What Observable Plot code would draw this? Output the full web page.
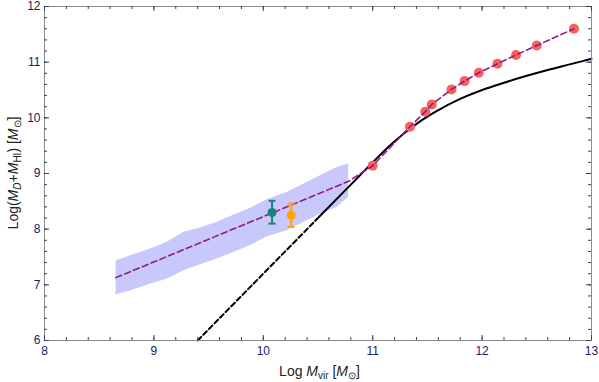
<!DOCTYPE html>
<html><head><meta charset="utf-8">
<script src="https://cdn.jsdelivr.net/npm/d3@7"></script>
<script src="https://cdn.jsdelivr.net/npm/@observablehq/plot@0.6"></script>
<style>body{margin:0;background:#fff}#chart{width:599px;height:382px}</style>
</head><body><div id="chart"></div>
<script>
// Axis ticks
const xTicks = [8, 9, 10, 11, 12, 13];
const yTicks = [6, 7, 8, 9, 10, 11, 12];

// Shaded band (simulated dwarfs)
const bandX = [8.654, 8.782, 8.965, 9.118, 9.27, 9.423, 9.575, 9.728, 9.88, 10.033, 10.216, 10.399, 10.521, 10.673, 10.78];
const bandTop = [7.43, 7.52, 7.64, 7.76, 7.94, 8.02, 8.12, 8.25, 8.37, 8.53, 8.66, 8.84, 8.96, 9.11, 9.17];
const bandBottom = [6.82, 6.89, 7.01, 7.10, 7.25, 7.36, 7.46, 7.58, 7.70, 7.86, 7.97, 8.15, 8.27, 8.39, 8.57];

// Purple dashed fit through band
const fitX = [8.654, 10.78];
const fitY = [7.13, 8.86];

// Red points
const ptX = [11.0, 11.34, 11.48, 11.54, 11.72, 11.84, 11.97, 12.14, 12.31, 12.50, 12.84];
const ptY = [9.14, 9.84, 10.11, 10.24, 10.51, 10.66, 10.81, 10.97, 11.13, 11.30, 11.60];

// Black model curve
const dashX = [9.4, 10.475];
const dashY = [6.0, 8.15];
const solidX = [10.475, 10.8, 11.0, 11.15, 11.3, 11.45, 11.6, 11.8, 12.0, 12.2, 12.4, 12.6, 12.8, 13.0];
const solidY = [8.15, 8.80, 9.20, 9.49, 9.74, 9.96, 10.14, 10.34, 10.50, 10.63, 10.75, 10.86, 10.96, 11.06];

// Observed galaxies with error bars
const obsColor = ["#1a8080", "#ffa500"];
const obsX = [10.08, 10.255];
const obsY = [8.30, 8.25];
const obsLo = [8.10, 8.04];
const obsHi = [8.51, 8.46];

const band = bandX.map((x, i) => ({x, lo: bandBottom[i], hi: bandTop[i]}));
const fitLine = fitX.map((x, i) => ({x, y: fitY[i]})).concat(ptX.map((x, i) => ({x, y: ptY[i]})));
const pts = ptX.map((x, i) => ({x, y: ptY[i]}));
const dash = dashX.map((x, i) => ({x, y: dashY[i]}));
const solid = solidX.map((x, i) => ({x, y: solidY[i]}));
const obs = obsX.map((x, i) => ({x, y: obsY[i], lo: obsLo[i], hi: obsHi[i], c: obsColor[i]}));

const W = 599, H = 382, mL = 44, mR = 8, mT = 6, mB = 42;
const iW = W - mL - mR, iH = H - mT - mB;
const xMinor = d3.range(8, 13.0001, 0.2).map(v => +v.toFixed(2));
const yMinor = d3.range(6, 12.0001, 0.2).map(v => +v.toFixed(2));
const tickC = "#3b3b6e";
const labC = "#1a1a5e";
const cap = {draw(ctx, size) { const r = Math.sqrt(size / Math.PI); ctx.moveTo(-r, 0); ctx.lineTo(r, 0); }};

const chart = Plot.plot({
  width: W, height: H, marginLeft: mL, marginRight: mR, marginTop: mT, marginBottom: mB,
  x: {domain: [8, 13]},
  y: {domain: [6, 12]},
  color: {type: "identity"},
  style: {fontFamily: "'Liberation Sans', Arial, sans-serif", fontSize: "12px", color: labC, background: "white", overflow: "visible"},
  marks: [
    Plot.areaY(band, {x: "x", y1: "lo", y2: "hi", fill: "#c8c8fa"}),
    Plot.line(dash, {x: "x", y: "y", stroke: "black", strokeWidth: 2, strokeDasharray: "5,3"}),
    Plot.line(solid, {x: "x", y: "y", stroke: "black", strokeWidth: 2, curve: "monotone-x"}),
    Plot.dot(pts, {x: "x", y: "y", r: 5, fill: "#f8605a"}),
    Plot.line(fitLine, {x: "x", y: "y", stroke: "#8b1c8b", strokeWidth: 1.6, strokeDasharray: "6,3.5"}),
    Plot.ruleX(obs, {x: "x", y1: "lo", y2: "hi", stroke: "c", strokeWidth: 2}),
    Plot.dot(obs, {x: "x", y: "hi", symbol: cap, r: 3.5, stroke: "c", strokeWidth: 2}),
    Plot.dot(obs, {x: "x", y: "lo", symbol: cap, r: 3.5, stroke: "c", strokeWidth: 2}),
    Plot.dot(obs, {x: "x", y: "y", r: 4.5, fill: "c"}),
    Plot.frame({stroke: "#8c8c8c"}),
    Plot.tickX(xMinor, {x: d => d, insetTop: iH - 3, stroke: tickC}),
    Plot.tickX(xMinor, {x: d => d, insetBottom: iH - 3, stroke: tickC}),
    Plot.tickX(xTicks, {x: d => d, insetTop: iH - 5, stroke: tickC}),
    Plot.tickX(xTicks, {x: d => d, insetBottom: iH - 5, stroke: tickC}),
    Plot.tickY(yMinor, {y: d => d, insetRight: iW - 3, stroke: tickC}),
    Plot.tickY(yMinor, {y: d => d, insetLeft: iW - 3, stroke: tickC}),
    Plot.tickY(yTicks, {y: d => d, insetRight: iW - 5, stroke: tickC}),
    Plot.tickY(yTicks, {y: d => d, insetLeft: iW - 5, stroke: tickC}),
    Plot.axisX({ticks: xTicks, tickFormat: "d", tickSize: 0, tickPadding: 6, label: null, color: labC}),
    Plot.axisY({ticks: yTicks, tickFormat: "d", tickSize: 0, tickPadding: 4, label: null, color: labC})
  ]
});
document.getElementById("chart").appendChild(chart);

const svg = d3.select(chart);
function addLabel(g, parts) {
  const t = g.append("text").attr("text-anchor", "middle")
    .attr("font-family", "'Liberation Sans', Arial, sans-serif").attr("font-size", "14px").attr("fill", "#222");
  parts.forEach(p => {
    const s = t.append("tspan").text(p.t);
    if (p.i) s.attr("font-style", "italic");
    if (p.sub) s.attr("font-size", "10px").attr("dy", 3);
    if (p.up) s.attr("dy", -3);
  });
}
const gx = svg.append("g").attr("transform", `translate(${mL + iW / 2 + 2},376)`);
addLabel(gx, [{t: "Log "}, {t: "M", i: true}, {t: "vir", sub: true}, {t: " [", up: true}, {t: "M", i: true}, {t: "⊙", sub: true}, {t: "]", up: true}]);
const gy = svg.append("g").attr("transform", `translate(18,${mT + iH / 2}) rotate(-90)`);
addLabel(gy, [{t: "Log("}, {t: "M", i: true}, {t: "D", sub: true, i: true}, {t: "+", up: true}, {t: "M", i: true}, {t: "HI", sub: true}, {t: ") [", up: true}, {t: "M", i: true}, {t: "⊙", sub: true}, {t: "]", up: true}]);
</script>
</body></html>
